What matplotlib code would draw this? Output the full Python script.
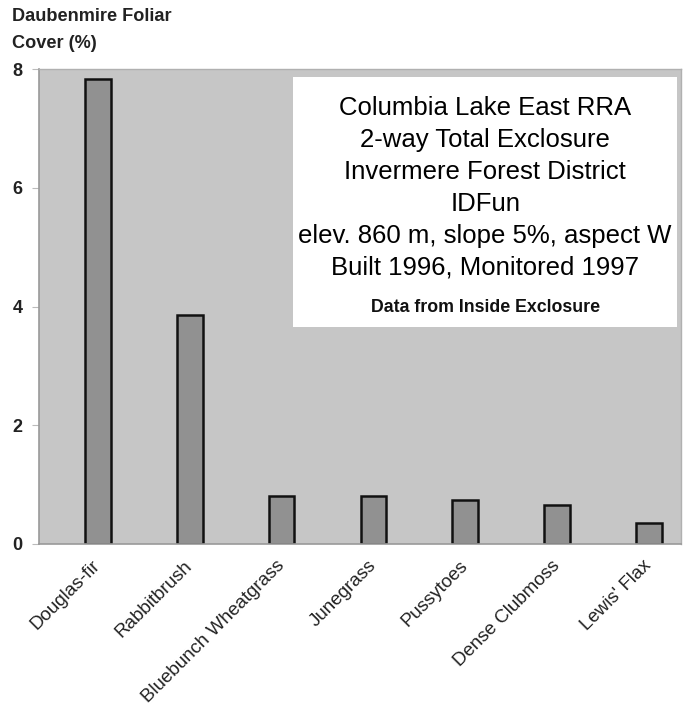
import numpy as np
import matplotlib
matplotlib.use('Agg')
import matplotlib.pyplot as plt

# data
species = ['Douglas-fir', 'Rabbitbrush', 'Bluebunch Wheatgrass', 'Junegrass',
           'Pussytoes', 'Dense Clubmoss', "Lewis' Flax"]
cover = [7.83, 3.86, 0.81, 0.80, 0.74, 0.66, 0.36]
yticks = [0, 2, 4, 6, 8]

info_lines = ['Columbia Lake East RRA', '2-way Total Exclosure',
              'Invermere Forest District', 'IDFun',
              'elev. 860 m, slope 5%, aspect W', 'Built 1996, Monitored 1997']
info_note = 'Data from Inside Exclosure'

plt.rcParams['font.family'] = ['Liberation Sans', 'DejaVu Sans']

fig = plt.figure(figsize=(6.83, 7.05), dpi=100)
ax = fig.add_axes([0.057, 0.2284, 0.940, 0.6736])
ax.set_facecolor('#c6c6c6')

x = np.arange(len(species))
ax.bar(x, cover, width=0.28, color='#919191', edgecolor='#111111', linewidth=1.8)

ax.set_xlim(-0.643, len(species) - 0.65)
ax.set_ylim(0, 8)
ax.set_yticks(yticks)
ax.set_yticklabels([str(v) for v in yticks], fontsize=13, fontweight='bold',
                   color='#222222')
ax.tick_params(axis='y', length=5, color='#bbbbbb', pad=7)
ax.set_xticks(x)
ax.set_xticklabels(species, rotation=45, ha='right', va='center',
                   rotation_mode='anchor', fontsize=13.5, color='#222222')
ax.tick_params(axis='x', length=0, pad=14)

for side in ['left', 'bottom']:
    ax.spines[side].set_color('#999999')
    ax.spines[side].set_linewidth(1.2)
for side in ['top', 'right']:
    ax.spines[side].set_color('#b0b0b0')
    ax.spines[side].set_linewidth(1.0)

# info box
box = plt.Rectangle((0.396, 0.457), 0.598, 0.526, transform=ax.transAxes,
                    facecolor='white', edgecolor='none', zorder=3)
ax.add_patch(box)
ys = 0.918 - 0.0672 * np.arange(len(info_lines))
for yy, line in zip(ys, info_lines):
    ax.text(0.695, yy, line, transform=ax.transAxes, ha='center', va='center',
            fontsize=18.5, color='#000000', zorder=4)
ax.text(0.695, 0.497, info_note,
        transform=ax.transAxes, ha='center', va='center', fontsize=12.8,
        fontweight='bold', color='#111111', zorder=4)

# y axis title in the top-left corner
fig.text(0.017, 0.977, 'Daubenmire Foliar', ha='left', va='center',
         fontsize=13.1, fontweight='bold', color='#222222')
fig.text(0.017, 0.938, 'Cover (%)', ha='left', va='center',
         fontsize=13.1, fontweight='bold', color='#222222')

fig.savefig('out.png', dpi=100)
